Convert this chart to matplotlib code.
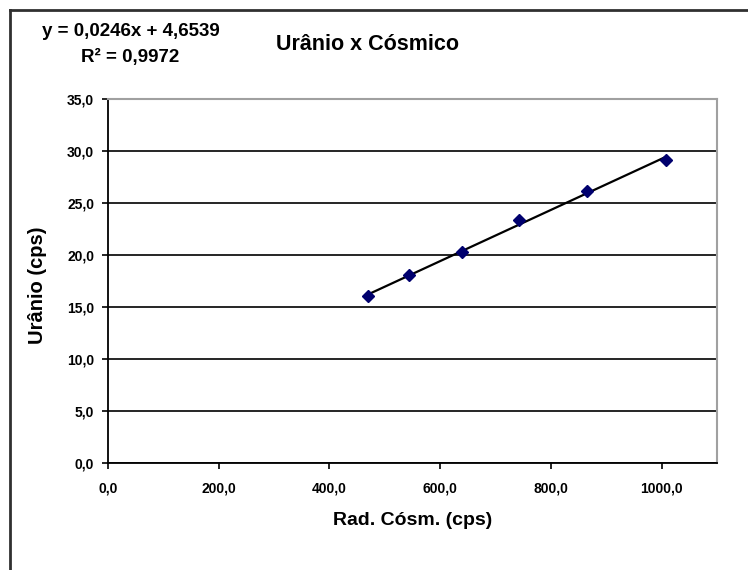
import numpy as np
import matplotlib.pyplot as plt
from matplotlib.lines import Line2D
from matplotlib.ticker import FuncFormatter

# data
cosmico = [469, 543, 639, 742, 865, 1007]
uranio = [16.1, 18.1, 20.3, 23.4, 26.2, 29.1]
slope, intercept = 0.0246, 4.6539
eq_text = "y = 0,0246x + 4,6539"
r2_text = "R² = 0,9972"
title = "Urânio x Cósmico"
xlabel = "Rad. Cósm. (cps)"
ylabel = "Urânio (cps)"

plt.rcParams['font.family'] = ['Liberation Sans', 'DejaVu Sans']
plt.rcParams['font.weight'] = 'bold'

fig = plt.figure(figsize=(7.48, 5.70), dpi=100)
ax = fig.add_axes([108/748, 1-463/570, 609/748, 364/570])

ax.set_xlim(0, 1100)
ax.set_ylim(0, 35)
ax.set_xticks(np.arange(0, 1001, 200))
ax.set_yticks(np.arange(0, 36, 5))
comma = FuncFormatter(lambda v, p: f"{v:.1f}".replace('.', ','))
ax.xaxis.set_major_formatter(comma)
ax.yaxis.set_major_formatter(comma)
ax.tick_params(direction='out', length=4, width=1.2, labelsize=10)
ax.tick_params(axis='x', pad=9)
ax.tick_params(axis='y', pad=6)
for lab in ax.get_xticklabels() + ax.get_yticklabels():
    lab.set_fontweight('bold')

ax.yaxis.grid(True, color='black', lw=1.2)
ax.set_axisbelow(True)
for s in ['left', 'bottom']:
    ax.spines[s].set_color('black')
    ax.spines[s].set_linewidth(1.3)
for s in ['top', 'right']:
    ax.spines[s].set_color('#a0a0a0')
    ax.spines[s].set_linewidth(1.5)

xs = np.array([cosmico[0], cosmico[-1]])
ax.plot(xs, slope*xs + intercept, color='black', lw=1.6, zorder=3)
ax.plot(cosmico, uranio, 'D', color='#00006e', ms=6, zorder=4)

ax.set_xlabel(xlabel, fontsize=14, fontweight='bold', va='center')
ax.xaxis.set_label_coords(0.5008, -0.1566)
ax.set_ylabel(ylabel, fontsize=14.5, fontweight='bold', va='center')
ax.yaxis.set_label_coords(-0.115, 0.489)

fig.text(368/748, 1-45/570, title, fontsize=15.5, fontweight='bold', ha='center', va='center')
fig.text(131/748, 1-32/570, eq_text, fontsize=13.5, fontweight='bold', ha='center', va='center')
fig.text(130/748, 1-57/570, r2_text, fontsize=13.5, fontweight='bold', ha='center', va='center')

# outer chart border
fig.add_artist(Line2D([10/748, 10/748], [0, 1-10/570], color='#303030', lw=2, transform=fig.transFigure))
fig.add_artist(Line2D([10/748, 1], [1-10/570, 1-10/570], color='#303030', lw=2, transform=fig.transFigure))

fig.savefig('out.png', dpi=100)
